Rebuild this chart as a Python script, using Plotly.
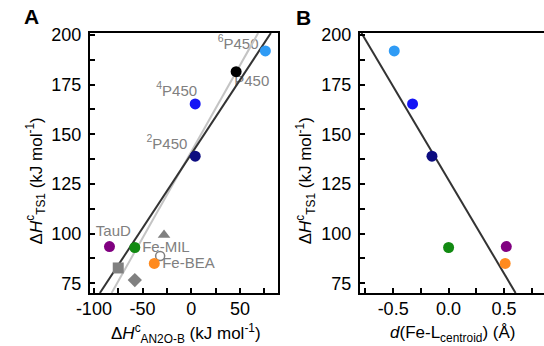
import plotly.graph_objects as go

# ---------------- data ----------------
series_names = ["6P450", "3P450", "4P450", "2P450", "TauD", "Fe-MIL", "Fe-BEA"]
series_colors = ["#2f9bf5", "#000000", "#1414f5", "#0c0c80", "#800080", "#128a12", "#ff8a1e"]
dH_ts1 = [192, 181.5, 165.3, 139, 93.5, 93, 85]
dH_an2o = [76, 46, 4, 4, -84, -58, -38]
d_fe_l = [-0.49, None, -0.325, -0.15, 0.52, 0.0, 0.51]

# gray reference points (panel A)
gray_symbols = ["circle-open", "triangle-up", "square", "diamond"]
gray_x = [-32, -28, -75, -58]
gray_y = [88.7, 99.3, 82.7, 76.6]

# labels (panel A)
label_text = ["<sup>6</sup>P450", "P450", "<sup>4</sup>P450", "<sup>2</sup>P450", "TauD", "Fe-MIL", "Fe-BEA"]
label_x = [48, 62, -15, -25, -80, -26, -3]
label_y = [195, 176.3, 171.3, 144.6, 100.8, 92.8, 84.7]

# linear fits: (slope, intercept)
fit_A_black = (0.7457, 140.1)
fit_A_gray = (0.87, 141.3)
fit_B = (-94.2, 127.0)

xrange_A = [-104, 89]
xrange_B = [-0.80, 0.86]
yrange = [70.1, 201]

FONT = "Liberation Sans, Arial, sans-serif"
GRAY = "#808080"

fig = go.Figure()

# ---- panel A ----
fig.add_trace(go.Scatter(x=label_x, y=label_y, mode="text", text=label_text,
                         textfont=dict(family=FONT, size=15, color=GRAY),
                         xaxis="x", yaxis="y", showlegend=False, cliponaxis=False))


def fit_line(fit, lo, hi, ylo, yhi):
    m, b = fit
    xs = []
    for yv in (ylo, yhi):
        xs.append((yv - b) / m)
    xs = sorted([max(lo, min(hi, v)) for v in xs])
    return xs, [m * v + b for v in xs]


gx, gy = fit_line(fit_A_gray, xrange_A[0], xrange_A[1], yrange[0], yrange[1])
fig.add_trace(go.Scatter(x=gx, y=gy, mode="lines", line=dict(color="#c4c4c4", width=2),
                         xaxis="x", yaxis="y", showlegend=False))
bx, by = fit_line(fit_A_black, xrange_A[0], xrange_A[1], yrange[0], yrange[1])
fig.add_trace(go.Scatter(x=bx, y=by, mode="lines", line=dict(color="#333333", width=2),
                         xaxis="x", yaxis="y", showlegend=False))

for sym, xv, yv in zip(gray_symbols, gray_x, gray_y):
    if sym == "circle-open":
        mk = dict(symbol="circle", size=9, color="white", line=dict(color=GRAY, width=1.5))
    else:
        mk = dict(symbol=sym, size=11, color=GRAY, line=dict(width=0))
    fig.add_trace(go.Scatter(x=[xv], y=[yv], mode="markers", marker=mk,
                             xaxis="x", yaxis="y", showlegend=False))

fig.add_trace(go.Scatter(x=dH_an2o, y=dH_ts1, mode="markers",
                         marker=dict(size=11, color=series_colors, line=dict(width=0)),
                         xaxis="x", yaxis="y", showlegend=False))

# ---- panel B ----
lx, ly = fit_line(fit_B, xrange_B[0], xrange_B[1], yrange[0], yrange[1])
fig.add_trace(go.Scatter(x=lx, y=ly, mode="lines", line=dict(color="#333333", width=2),
                         xaxis="x2", yaxis="y2", showlegend=False))
bxs = [v for v in d_fe_l if v is not None]
bys = [y for v, y in zip(d_fe_l, dH_ts1) if v is not None]
bcs = [c for v, c in zip(d_fe_l, series_colors) if v is not None]
fig.add_trace(go.Scatter(x=bxs, y=bys, mode="markers",
                         marker=dict(size=11, color=bcs, line=dict(width=0)),
                         xaxis="x2", yaxis="y2", showlegend=False))

tickfont = dict(family=FONT, size=18, color="black")
common = dict(showline=True, linecolor="black", linewidth=2, ticks="inside", ticklen=5,
              tickwidth=1.5, tickcolor="black", showgrid=False, zeroline=False,
              tickfont=tickfont)

W, H = 544, 346
T, B = 33, 53
PH = H - T - B


def py(p):
    return (H - B - p) / PH


fig.update_layout(
    width=W, height=H,
    margin=dict(l=0, r=0, t=T, b=B),
    paper_bgcolor="white", plot_bgcolor="white",
    xaxis=dict(domain=[78 / W, 271 / W], range=xrange_A, mirror=True,
               tickmode="array", tickvals=[-100, -50, 0, 50], ticktext=["-100", "-50", "0", "50"],
               minor=dict(ticks="inside", ticklen=5, tickwidth=1.5, tickcolor="black", tick0=-100, dtick=25),
               ticklabelstandoff=-2, anchor="y", **common),
    yaxis=dict(domain=[0, 1], range=yrange, mirror=True,
               tickmode="array", tickvals=[75, 100, 125, 150, 175, 200],
               minor=dict(ticks="inside", ticklen=5, tickwidth=1.5, tickcolor="black", tick0=75, dtick=12.5),
               ticklabelstandoff=3, anchor="x", **common),
    xaxis2=dict(domain=[355 / W, 1.0], range=xrange_B, mirror=True,
                tickmode="array", tickvals=[-0.5, 0, 0.5], ticktext=["-0.5", "0.0", "0.5"],
                minor=dict(ticks="inside", ticklen=5, tickwidth=1.5, tickcolor="black", tick0=-0.75, dtick=0.25),
                ticklabelstandoff=-2, anchor="y2", **common),
    yaxis2=dict(domain=[0, 1], range=yrange, mirror=False,
                tickmode="array", tickvals=[75, 100, 125, 150, 175, 200],
                minor=dict(ticks="inside", ticklen=5, tickwidth=1.5, tickcolor="black", tick0=75, dtick=12.5),
                ticklabelstandoff=3, anchor="x2", **common),
    font=dict(family=FONT),
)

title_font = dict(family=FONT, size=17, color="black")
ylab = "Δ<i>H</i><sup>c</sup><sub>TS1</sub> (kJ mol<sup>-1</sup>)"
annotations = [
    dict(text="<b>A</b>", x=18 / W, y=py(16), font=dict(family=FONT, size=21, color="black")),
    dict(text="<b>B</b>", x=297 / W, y=py(17), font=dict(family=FONT, size=21, color="black")),
    dict(text=ylab, x=22 / W, y=py(181), textangle=-90, font=title_font),
    dict(text=ylab, x=299 / W, y=py(181), textangle=-90, font=title_font),
    dict(text="Δ<i>H</i><sup>c</sup><sub>AN2O-B</sub> (kJ mol<sup>-1</sup>)", x=177 / W, y=py(334),
         font=title_font),
    dict(text="<i>d</i>(Fe-L<sub>centroid</sub>) (Å)", x=450 / W, y=py(334), font=title_font),
]
for a in annotations:
    a.update(xref="paper", yref="paper", showarrow=False, yanchor="middle", xanchor="center")
fig.update_layout(annotations=annotations)

fig.write_html("out.html")
